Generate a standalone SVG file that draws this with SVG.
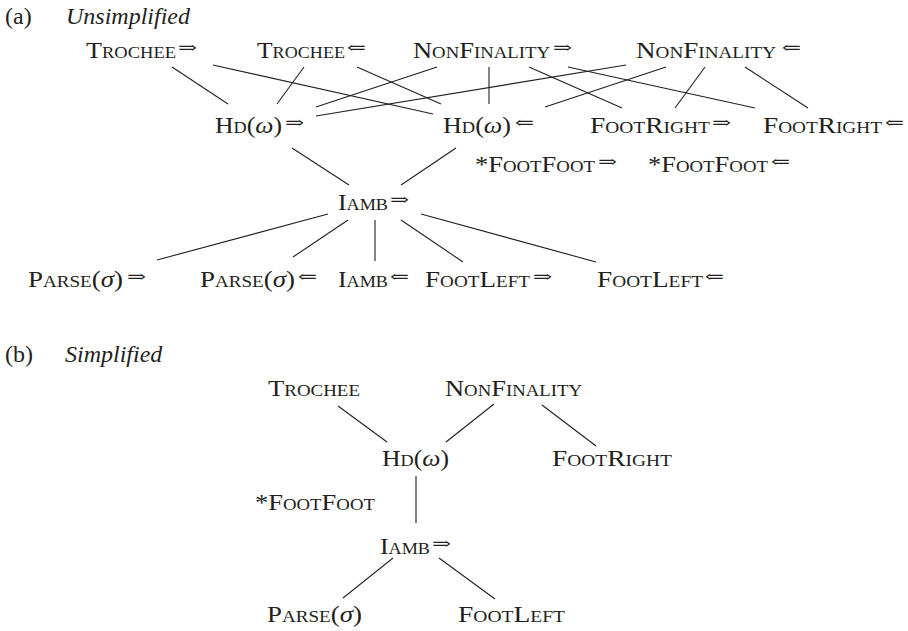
<svg xmlns="http://www.w3.org/2000/svg" width="908" height="631" viewBox="0 0 908 631">
<style>
text{font-family:"Liberation Serif","Times New Roman",serif;font-size:24px;fill:#231f20}
.sc{font-size:17px}
.it{font-style:italic}
.ar{font-family:"DejaVu Serif","DejaVu Sans",serif;font-size:16px}
#connectors line{stroke:#231f20;stroke-width:1.1;fill:none}
</style>
<rect width="908" height="631" fill="#fff"/>
<text x="5" y="24">(a)</text>
<text x="66" y="24" class="it">Unsimplified</text>
<text x="5" y="362">(b)</text>
<text x="65" y="362" class="it">Simplified</text>
<g id="connectors">
<line x1="172" y1="67" x2="228" y2="104"/>
<line x1="213" y1="65" x2="433" y2="114"/>
<line x1="304" y1="67" x2="277" y2="104"/>
<line x1="357" y1="67" x2="441" y2="104"/>
<line x1="437" y1="67" x2="316" y2="107"/>
<line x1="626" y1="65" x2="316" y2="116"/>
<line x1="489" y1="67" x2="489" y2="104"/>
<line x1="529" y1="67" x2="622" y2="108"/>
<line x1="568" y1="67" x2="755" y2="108"/>
<line x1="666" y1="67" x2="545" y2="107"/>
<line x1="705" y1="67" x2="675" y2="108"/>
<line x1="745" y1="67" x2="808" y2="108"/>
<line x1="292" y1="148" x2="349" y2="185"/>
<line x1="456" y1="148" x2="401" y2="185"/>
<line x1="157" y1="260" x2="328" y2="214"/>
<line x1="348" y1="220" x2="293" y2="257"/>
<line x1="375" y1="220" x2="375" y2="261"/>
<line x1="401" y1="220" x2="463" y2="262"/>
<line x1="421" y1="214" x2="596" y2="262"/>
<line x1="338" y1="406" x2="387" y2="442"/>
<line x1="494" y1="404" x2="446" y2="442"/>
<line x1="542" y1="405" x2="596" y2="446"/>
<line x1="416" y1="476" x2="416" y2="523"/>
<line x1="393" y1="558" x2="343" y2="598"/>
<line x1="439" y1="558" x2="495" y2="599"/>
</g>
<!-- (a) -->
<g id="a-trochee-r"><text x="86" y="58" textLength="90" lengthAdjust="spacingAndGlyphs">T<tspan class="sc">ROCHEE</tspan></text><text class="ar" x="178" y="53" textLength="19" lengthAdjust="spacingAndGlyphs">⇒</text></g>
<g id="a-trochee-l"><text x="257" y="58" textLength="88" lengthAdjust="spacingAndGlyphs">T<tspan class="sc">ROCHEE</tspan></text><text class="ar" x="347" y="53" textLength="19" lengthAdjust="spacingAndGlyphs">⇐</text></g>
<g id="a-nonfin-r"><text x="413" y="58" textLength="137" lengthAdjust="spacingAndGlyphs">N<tspan class="sc">ON</tspan>F<tspan class="sc">INALITY</tspan></text><text class="ar" x="553" y="53" textLength="19" lengthAdjust="spacingAndGlyphs">⇒</text></g>
<g id="a-nonfin-l"><text x="636" y="58" textLength="140" lengthAdjust="spacingAndGlyphs">N<tspan class="sc">ON</tspan>F<tspan class="sc">INALITY</tspan></text><text class="ar" x="782" y="53" textLength="19" lengthAdjust="spacingAndGlyphs">⇐</text></g>
<g id="a-hd-r"><text x="215" y="133" textLength="67" lengthAdjust="spacingAndGlyphs">H<tspan class="sc">D</tspan>(<tspan class="it">ω</tspan>)</text><text class="ar" x="285" y="128" textLength="19" lengthAdjust="spacingAndGlyphs">⇒</text></g>
<g id="a-hd-l"><text x="443" y="133" textLength="68" lengthAdjust="spacingAndGlyphs">H<tspan class="sc">D</tspan>(<tspan class="it">ω</tspan>)</text><text class="ar" x="515" y="128" textLength="19" lengthAdjust="spacingAndGlyphs">⇐</text></g>
<g id="a-footright-r"><text x="590" y="133" textLength="120" lengthAdjust="spacingAndGlyphs">F<tspan class="sc">OOT</tspan>R<tspan class="sc">IGHT</tspan></text><text class="ar" x="712" y="128" textLength="19" lengthAdjust="spacingAndGlyphs">⇒</text></g>
<g id="a-footright-l"><text x="763" y="133" textLength="119" lengthAdjust="spacingAndGlyphs">F<tspan class="sc">OOT</tspan>R<tspan class="sc">IGHT</tspan></text><text class="ar" x="885" y="128" textLength="19" lengthAdjust="spacingAndGlyphs">⇐</text></g>
<g id="a-footfoot-r"><text x="475" y="172" textLength="120" lengthAdjust="spacingAndGlyphs">*F<tspan class="sc">OOT</tspan>F<tspan class="sc">OOT</tspan></text><text class="ar" x="598" y="167" textLength="19" lengthAdjust="spacingAndGlyphs">⇒</text></g>
<g id="a-footfoot-l"><text x="648" y="172" textLength="120" lengthAdjust="spacingAndGlyphs">*F<tspan class="sc">OOT</tspan>F<tspan class="sc">OOT</tspan></text><text class="ar" x="771" y="167" textLength="19" lengthAdjust="spacingAndGlyphs">⇐</text></g>
<g id="a-iamb-r"><text x="338" y="210" textLength="50" lengthAdjust="spacingAndGlyphs">I<tspan class="sc">AMB</tspan></text><text class="ar" x="390" y="205" textLength="19" lengthAdjust="spacingAndGlyphs">⇒</text></g>
<g id="a-parse-r"><text x="28" y="287" textLength="95" lengthAdjust="spacingAndGlyphs">P<tspan class="sc">ARSE</tspan>(<tspan class="it">σ</tspan>)</text><text class="ar" x="127" y="282" textLength="19" lengthAdjust="spacingAndGlyphs">⇒</text></g>
<g id="a-parse-l"><text x="200" y="287" textLength="95" lengthAdjust="spacingAndGlyphs">P<tspan class="sc">ARSE</tspan>(<tspan class="it">σ</tspan>)</text><text class="ar" x="298" y="282" textLength="19" lengthAdjust="spacingAndGlyphs">⇐</text></g>
<g id="a-iamb-l"><text x="338" y="287" textLength="50" lengthAdjust="spacingAndGlyphs">I<tspan class="sc">AMB</tspan></text><text class="ar" x="390" y="282" textLength="19" lengthAdjust="spacingAndGlyphs">⇐</text></g>
<g id="a-footleft-r"><text x="425" y="287" textLength="105" lengthAdjust="spacingAndGlyphs">F<tspan class="sc">OOT</tspan>L<tspan class="sc">EFT</tspan></text><text class="ar" x="533" y="282" textLength="19" lengthAdjust="spacingAndGlyphs">⇒</text></g>
<g id="a-footleft-l"><text x="597" y="287" textLength="106" lengthAdjust="spacingAndGlyphs">F<tspan class="sc">OOT</tspan>L<tspan class="sc">EFT</tspan></text><text class="ar" x="705" y="282" textLength="19" lengthAdjust="spacingAndGlyphs">⇐</text></g>
<!-- (b) -->
<g id="b-trochee"><text x="268" y="396" textLength="92" lengthAdjust="spacingAndGlyphs">T<tspan class="sc">ROCHEE</tspan></text></g>
<g id="b-nonfin"><text x="445" y="396" textLength="137" lengthAdjust="spacingAndGlyphs">N<tspan class="sc">ON</tspan>F<tspan class="sc">INALITY</tspan></text></g>
<g id="b-hd"><text x="382" y="466" textLength="67" lengthAdjust="spacingAndGlyphs">H<tspan class="sc">D</tspan>(<tspan class="it">ω</tspan>)</text></g>
<g id="b-footright"><text x="552" y="466" textLength="120" lengthAdjust="spacingAndGlyphs">F<tspan class="sc">OOT</tspan>R<tspan class="sc">IGHT</tspan></text></g>
<g id="b-footfoot"><text x="255" y="510" textLength="120" lengthAdjust="spacingAndGlyphs">*F<tspan class="sc">OOT</tspan>F<tspan class="sc">OOT</tspan></text></g>
<g id="b-iamb"><text x="380" y="554" textLength="50" lengthAdjust="spacingAndGlyphs">I<tspan class="sc">AMB</tspan></text><text class="ar" x="432" y="549" textLength="19" lengthAdjust="spacingAndGlyphs">⇒</text></g>
<g id="b-parse"><text x="267" y="622" textLength="95" lengthAdjust="spacingAndGlyphs">P<tspan class="sc">ARSE</tspan>(<tspan class="it">σ</tspan>)</text></g>
<g id="b-footleft"><text x="458" y="622" textLength="107" lengthAdjust="spacingAndGlyphs">F<tspan class="sc">OOT</tspan>L<tspan class="sc">EFT</tspan></text></g>
</svg>
